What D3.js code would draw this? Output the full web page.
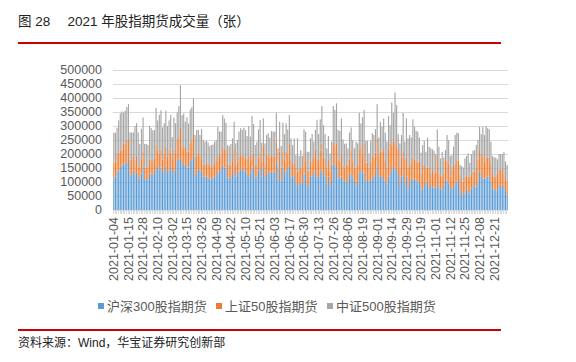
<!DOCTYPE html>
<html>
<head>
<meta charset="utf-8">
<script src="https://cdn.jsdelivr.net/npm/d3@7"></script>
<style>
  body { margin: 0; background: #fff; }
  svg text { font-family: "Liberation Sans", Arial, "Noto Sans CJK SC", sans-serif; }
</style>
</head>
<body>
<div id="chart"></div>
<script>
// values in thousands of contracts (张), one per trading day of 2021
const UNIT = 1000;
const hs300 = [113,120,135,140,150,160,163,166,168,175,125,128,140,128,133,117,112,130,150,110,
  110,108,130,125,125,130,157,150,145,152,132,140,158,135,145,150,128,150,140,
  178,180,182,167,164,160,152,152,175,178,196,125,131,143,145,137,119,117,119,117,113,
  109,117,117,121,137,137,143,157,152,152,117,113,117,125,149,119,128,137,149,140,
  143,137,125,119,131,149,149,117,119,140,157,119,149,117,128,133,128,137,133,133,
  167,107,149,105,152,128,137,149,157,119,117,128,101,89,86,101,93,125,131,86,89,
  119,128,119,137,119,117,137,145,125,119,95,119,86,107,164,161,157,113,117,119,
  105,101,107,98,125,125,117,105,86,101,131,143,131,133,101,107,101,107,109,119,125,
  157,119,121,125,107,101,95,119,128,143,149,152,143,125,89,119,125,98,119,77,
  98,107,113,109,101,105,98,77,74,101,86,93,81,89,81,83,80,90,81,74,74,
  86,107,105,95,71,83,81,89,101,107,71,54,60,62,71,71,60,77,86,83,
  83,101,137,125,113,113,113,119,119,101,77,74,71,71,86,86,86,86,69,54];
const sz50 = [56,52,63,65,62,55,73,72,82,75,55,50,50,52,62,33,38,48,60,40,
  42,47,50,50,53,54,75,65,55,63,48,60,67,55,70,55,47,65,60,
  72,80,112,59,56,66,56,56,63,70,72,65,65,62,48,47,42,44,48,44,48,
  46,44,47,55,53,59,53,69,62,62,44,44,44,53,71,42,45,53,47,50,
  53,51,53,74,47,47,53,44,42,48,45,54,83,50,68,63,60,59,60,57,
  79,42,59,47,56,50,71,53,79,59,44,41,51,48,57,54,56,75,47,54,48,
  54,50,71,80,65,61,75,93,63,62,54,59,51,54,76,71,81,68,56,77,
  52,51,54,59,56,89,61,47,66,56,83,83,62,105,68,62,51,66,84,69,80,
  99,77,91,83,107,80,57,101,110,89,95,94,85,89,60,69,87,80,69,75,
  59,66,75,72,72,68,75,52,87,56,66,59,71,44,62,48,55,103,50,47,47,
  45,71,73,72,48,60,76,78,77,69,54,47,41,55,50,48,59,48,51,54,
  66,79,77,77,77,60,75,69,69,60,48,47,48,58,57,57,63,43,41,47];
const zz500 = [107,104,96,115,133,137,111,117,118,128,97,99,87,120,115,128,86,112,120,86,
  84,77,120,117,107,101,133,105,140,141,115,110,130,110,105,135,85,115,110,
  99,111,152,113,125,89,123,101,121,119,131,78,90,81,75,105,89,83,80,80,67,
  77,73,80,74,107,84,84,113,113,98,71,71,75,78,95,77,77,90,96,96,
  98,98,86,107,84,140,105,71,83,100,119,67,95,71,72,78,70,86,87,90,
  101,71,107,76,104,93,101,86,103,78,71,87,44,119,50,59,44,88,102,68,71,
  83,93,54,69,137,93,112,133,115,90,71,86,65,83,131,125,143,105,109,131,
  95,84,77,63,95,81,72,68,92,81,133,83,138,119,78,78,50,74,81,80,84,
  122,63,103,89,113,95,92,116,65,152,103,174,147,57,89,80,135,66,139,104,
  111,86,136,116,110,107,86,76,71,90,56,107,74,87,74,81,65,95,95,63,87,
  57,36,90,83,74,53,69,101,98,98,36,56,51,67,72,83,50,75,75,77,
  83,70,83,69,107,95,112,104,100,83,68,67,69,52,57,57,51,78,63,60];

// exchange holidays on weekdays, 2021
const holidays = ["2021-01-01","2021-02-11","2021-02-12","2021-02-15","2021-02-16","2021-02-17",
  "2021-04-05","2021-05-03","2021-05-04","2021-05-05","2021-06-14","2021-09-20","2021-09-21",
  "2021-10-01","2021-10-04","2021-10-05","2021-10-06","2021-10-07"];

const xLabels = ["2021-01-04","2021-01-15","2021-01-28","2021-02-10","2021-03-02","2021-03-15",
  "2021-03-26","2021-04-09","2021-04-22","2021-05-10","2021-05-21","2021-06-03","2021-06-17",
  "2021-06-30","2021-07-13","2021-07-26","2021-08-06","2021-08-19","2021-09-01","2021-09-14",
  "2021-09-29","2021-10-19","2021-11-01","2021-11-12","2021-11-25","2021-12-08","2021-12-21"];
const yTicks = [0,50000,100000,150000,200000,250000,300000,350000,400000,450000,500000];

const seriesNames = ["沪深300股指期货", "上证50股指期货", "中证500股指期货"];
const colors = ["#5b9bd5", "#ed7d31", "#a5a5a5"];

const fmt = d3.timeFormat("%Y-%m-%d");
const dates = d3.timeDay.range(new Date(2021, 0, 1), new Date(2022, 0, 1))
    .filter(d => d.getDay() !== 0 && d.getDay() !== 6)
    .map(fmt)
    .filter(d => !holidays.includes(d));

const rows = dates.map((d, i) => ({
    date: d,
    hs300: hs300[i] * UNIT,
    sz50: sz50[i] * UNIT,
    zz500: zz500[i] * UNIT
}));

const width = 576, height = 362;
const margin = { top: 70, right: 68, bottom: 152, left: 113 };

const svg = d3.select("#chart").append("svg")
    .attr("width", width)
    .attr("height", height);

// title and rules
svg.append("text")
    .attr("x", 18)
    .attr("y", 26)
    .style("font-size", "13.5px")
    .style("fill", "#222")
    .text("图 28　 2021 年股指期货成交量（张）");

svg.append("line")
    .attr("x1", 18).attr("x2", 501)
    .attr("y1", 43).attr("y2", 43)
    .attr("stroke", "#cc0000")
    .attr("stroke-width", 2);

svg.append("line")
    .attr("x1", 18).attr("x2", 501)
    .attr("y1", 330).attr("y2", 330)
    .attr("stroke", "#cc0000")
    .attr("stroke-width", 2);

svg.append("text")
    .attr("x", 18)
    .attr("y", 347)
    .style("font-size", "12px")
    .style("fill", "#222")
    .text("资料来源：Wind，华宝证券研究创新部");

// scales
const xScale = d3.scaleBand()
    .domain(dates)
    .range([margin.left, width - margin.right])
    .paddingInner(0.3)
    .paddingOuter(0.15);

const yScale = d3.scaleLinear()
    .domain([0, 500000])
    .range([height - margin.bottom, margin.top]);

// grid
svg.append("g")
    .selectAll("line")
    .data(yTicks.slice(1))
    .enter().append("line")
    .attr("x1", margin.left)
    .attr("x2", width - margin.right)
    .attr("y1", d => Math.round(yScale(d)) + 0.5)
    .attr("y2", d => Math.round(yScale(d)) + 0.5)
    .attr("stroke", "#d9d9d9")
    .attr("stroke-width", 1);

// y axis labels
svg.append("g")
    .selectAll("text")
    .data(yTicks)
    .enter().append("text")
    .attr("x", 102)
    .attr("y", d => yScale(d))
    .attr("dy", "0.35em")
    .attr("text-anchor", "end")
    .style("font-size", "12.5px")
    .style("fill", "#595959")
    .text(d => d);

// bars
const keys = ["hs300", "sz50", "zz500"];
const stacked = d3.stack().keys(keys)(rows);

svg.append("g")
    .selectAll("g")
    .data(stacked)
    .enter().append("g")
    .attr("fill", (d, i) => colors[i])
    .selectAll("rect")
    .data(d => d)
    .enter().append("rect")
    .attr("x", d => xScale(d.data.date))
    .attr("width", xScale.bandwidth())
    .attr("y", d => yScale(d[1]))
    .attr("height", d => yScale(d[0]) - yScale(d[1]));

// x axis line and category ticks
const x0 = height - margin.bottom;
svg.append("line")
    .attr("x1", margin.left).attr("x2", width - margin.right)
    .attr("y1", x0 + 0.5).attr("y2", x0 + 0.5)
    .attr("stroke", "#d9d9d9");

svg.append("g")
    .selectAll("line")
    .data(dates)
    .enter().append("line")
    .attr("x1", d => Math.round(xScale(d) - xScale.step() * xScale.paddingInner() / 2) + 0.5)
    .attr("x2", d => Math.round(xScale(d) - xScale.step() * xScale.paddingInner() / 2) + 0.5)
    .attr("y1", x0)
    .attr("y2", x0 + 4)
    .attr("stroke", "#d9d9d9");

svg.append("g")
    .selectAll("text")
    .data(xLabels)
    .enter().append("text")
    .attr("transform", d => `translate(${xScale(d) + xScale.bandwidth() / 2},${x0 + 7}) rotate(-90)`)
    .attr("dy", "0.35em")
    .attr("text-anchor", "end")
    .style("font-size", "12.5px")
    .style("fill", "#595959")
    .text(d => d);

// legend
const legendX = [98, 216, 327];
const legend = svg.append("g");
seriesNames.forEach((name, i) => {
    legend.append("rect")
        .attr("x", legendX[i])
        .attr("y", 303)
        .attr("width", 6)
        .attr("height", 6)
        .attr("fill", colors[i]);
    legend.append("text")
        .attr("x", legendX[i] + 9)
        .attr("y", 306)
        .attr("dy", "0.35em")
        .style("font-size", "13px")
        .style("fill", "#595959")
        .text(name);
});
</script>
</body>
</html>
